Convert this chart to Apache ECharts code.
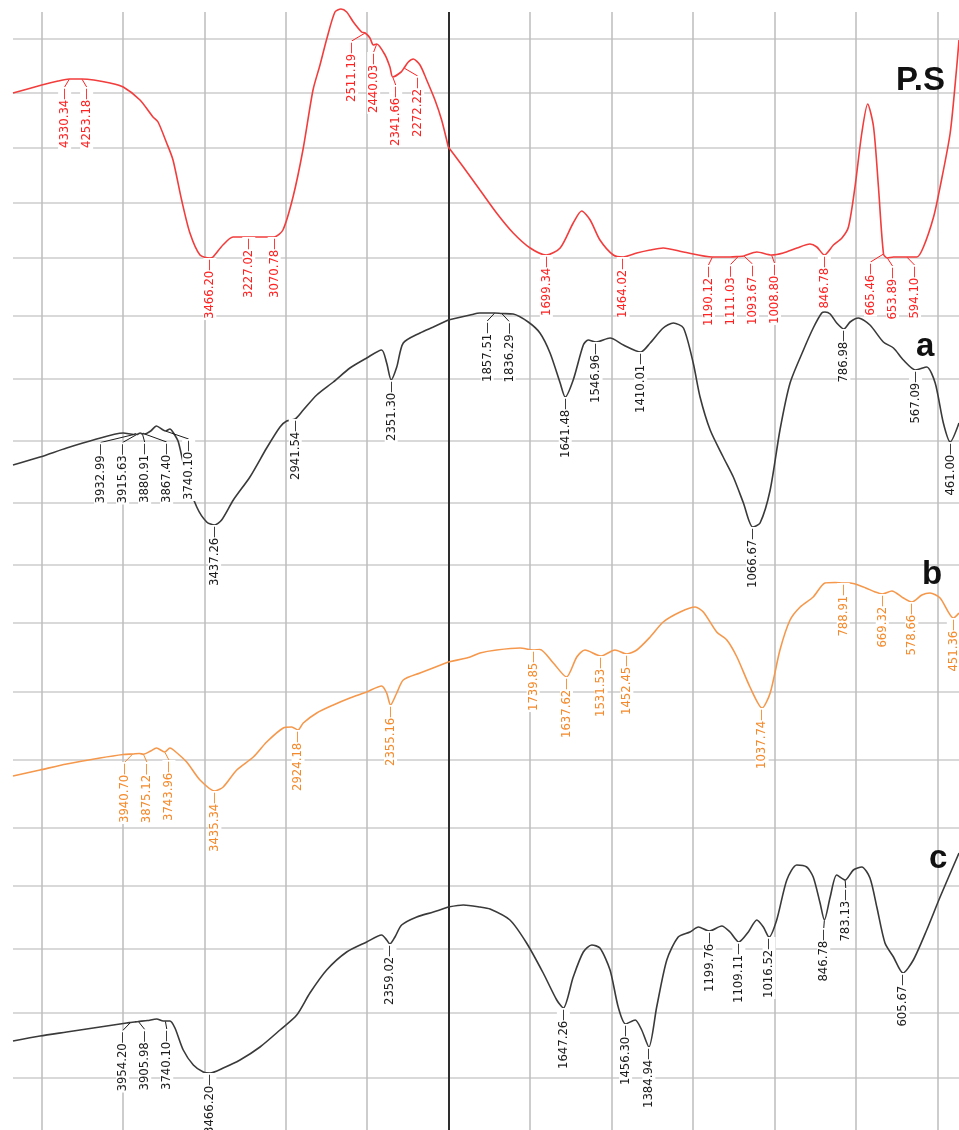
<!DOCTYPE html>
<html>
<head>
<meta charset="utf-8">
<script src="https://cdn.jsdelivr.net/npm/echarts@6/dist/echarts.min.js"></script>
<style>
  html, body { margin: 0; padding: 0; background: #fff; }
  #chart { width: 959px; height: 1130px; }
</style>
</head>
<body>
<div id="chart"></div>
<script>
// FTIR spectra, wavenumber (cm-1) against stacked, offset transmittance.
// The x scale changes at 2000 cm-1, so the plot is split into two grids.

// ---- P.S ----
const psCurve = [
  [4677,103.7],[4500,104.5],[4400,104.9],[4330.34,105.1],[4253.18,105.1],[4180,105.0],[4080,104.7],
  [3999,104.3],[3896,103.0],[3816,101.3],[3785,100.8],[3732,98.7],[3693,97.0],[3640,93.0],
  [3589,89.7],[3527,87.5],[3466.20,87.2],[3447,87.3],[3386,88.5],[3324,89.3],[3227.02,89.3],
  [3138,89.3],[3070.78,89.3],[3017,90.0],[2955,93.3],[2894,98.0],[2832,104.0],[2789,106.5],
  [2746,109.2],[2697,111.8],[2660,112.1],[2625,111.8],[2584,110.8],[2533,109.8],[2511.19,109.7],
  [2482,109.2],[2461,108.5],[2440.03,108.6],[2389,107.5],[2359,106.3],[2341.66,105.3],[2290,105.8],
  [2272.22,106.2],[2246,106.8],[2215,107.1],[2174,106.5],[2133,105.0],[2082,103.0],[2041,101.0],
  [2000,98.3],[1954,96.3],[1903,94.0],[1852,91.7],[1801,89.7],[1749,88.2],[1699.34,87.5],
  [1657,88.2],[1617,90.7],[1591,91.9],[1565,91.0],[1535,89.0],[1494,87.5],[1464.02,87.3],
  [1422,87.7],[1381,88.0],[1341,88.2],[1279,87.8],[1190.12,87.3],[1136,87.3],[1111.03,87.35],
  [1093.67,87.4],[1054,87.8],[1008.80,87.5],[973,87.7],[931,88.2],[891,88.6],[870,88.3],
  [846.78,87.5],[819,88.5],[793,89.2],[773,90.3],[753,94.3],[732,99.7],[714,102.6],[696,100.3],
  [681,94.3],[665.46,87.6],[653.89,87.2],[635,87.3],[594.10,87.3],[563,87.3],[543,88.3],
  [512,91.3],[492,94.3],[461,99.7],[441,106.3],[434,109.0]
];
const psPeaks = [4330.34, 4253.18, 3466.20, 3227.02, 3070.78, 2511.19, 2440.03, 2341.66, 2272.22,
  1699.34, 1464.02, 1190.12, 1111.03, 1093.67, 1008.80, 846.78, 665.46, 653.89, 594.10];

// ---- a ----
const aCurve = [
  [4677,66.5],[4511,67.3],[4347,68.2],[4183,69.0],[3999,69.7],[3932.99,69.55],[3925,69.62],
  [3915.63,69.55],[3895,69.7],[3880.91,69.6],[3875,69.65],[3867.40,69.6],[3830,69.9],[3795,70.4],
  [3740.10,69.9],[3712,70.1],[3690,69.7],[3660,68.8],[3609,65.2],[3547,62.3],[3486,60.8],
  [3437.26,60.5],[3394,61.0],[3322,63.0],[3220,65.3],[3117,68.2],[3035,70.3],[2994,70.9],
  [2941.54,71.1],[2892,72.0],[2809,73.5],[2707,74.8],[2605,76.2],[2502,77.2],[2410,78.0],
  [2379,76.7],[2351.30,75.0],[2317,76.3],[2277,78.7],[2174,79.7],[2092,80.3],[2000,81.0],
  [1933,81.5],[1903,81.7],[1857.51,81.7],[1836.29,81.65],[1801,81.6],[1755,80.8],[1719,79.7],
  [1688,77.7],[1657,74.7],[1641.48,73.3],[1617,75.0],[1586,78.5],[1571,79.0],[1546.96,78.8],
  [1504,79.2],[1463,78.5],[1410.01,77.8],[1381,78.7],[1341,80.2],[1310,80.7],[1279,80.2],
  [1249,76.7],[1228,73.3],[1197,70.0],[1157,67.3],[1126,65.3],[1095,62.7],[1066.67,60.3],
  [1044,60.7],[1013,64.0],[983,70.0],[952,74.7],[911,78.0],[881,80.2],[855,81.7],[845,81.8],
  [829,81.6],[809,80.7],[786.98,80.1],[768,80.8],[742.5,81.2],[707,80.5],[666,78.8],[635,78.2],
  [604.5,77.0],[567.09,76.0],[533,76.3],[507,74.7],[482,70.7],[461.00,68.8],[434,70.7]
];
const aPeaks = [3932.99, 3915.63, 3880.91, 3867.40, 3740.10, 3437.26, 2941.54, 2351.30, 1857.51,
  1836.29, 1641.48, 1546.96, 1410.01, 1066.67, 786.98, 567.09, 461.00];

// ---- b ----
const bCurve = [
  [4677,35.4],[4511,36.0],[4347,36.6],[4142,37.2],[3999,37.55],[3940.70,37.6],[3900,37.65],
  [3875.12,37.58],[3830,37.9],[3795,38.2],[3743.96,37.8],[3712,38.2],[3690,38.0],[3609,36.8],
  [3527,35.0],[3435.34,33.9],[3384,34.3],[3301,36.0],[3199,37.3],[3117,38.8],[3015,40.2],
  [2963,40.3],[2924.18,40.0],[2892,40.7],[2809,41.7],[2707,42.5],[2605,43.2],[2502,43.8],
  [2410,44.4],[2379,43.7],[2355.16,42.5],[2317,43.7],[2277,45.0],[2174,45.7],[2000,46.8],
  [1933,47.3],[1903,47.7],[1852,48.0],[1780,48.2],[1739.85,48.0],[1719,48.05],[1678,46.7],
  [1637.62,45.3],[1606,47.3],[1581,48.0],[1531.53,47.4],[1489,48.0],[1452.45,47.6],[1422,48.0],
  [1381,49.3],[1341,50.8],[1289,51.8],[1243,52.3],[1218,51.8],[1177,49.8],[1146,49.0],
  [1115,47.3],[1075,44.3],[1037.74,42.2],[1013,43.7],[983,48.0],[952,51.0],[921,52.3],
  [881,53.3],[845,54.7],[814,54.75],[788.91,54.7],[768,54.7],[727,54.3],[691,53.8],
  [669.32,53.6],[640,53.9],[604.5,53.2],[578.66,52.8],[548,53.5],[523,53.7],[492,53.2],
  [451.36,51.2],[434,51.7]
];
const bPeaks = [3940.70, 3875.12, 3743.96, 3435.34, 2924.18, 2355.16, 1739.85, 1637.62, 1531.53,
  1452.45, 1037.74, 788.91, 669.32, 578.66, 451.36];

// ---- c ----
const cCurve = [
  [4677,8.9],[4511,9.4],[4347,9.8],[4142,10.3],[3978,10.7],[3954.20,10.75],[3930,10.8],
  [3905.98,10.85],[3850,10.95],[3793,11.1],[3753,10.9],[3740.10,10.9],[3712,10.9],[3681,10.2],
  [3630,8.0],[3568,6.5],[3507,5.8],[3466.20,5.7],[3384,6.2],[3281,7.0],[3158,8.3],[3035,10.0],
  [2932,11.5],[2851,13.7],[2748,16.0],[2625,17.8],[2502,18.8],[2410,19.5],[2379,19.0],
  [2359.02,18.6],[2328,19.3],[2287,20.5],[2194,21.3],[2092,21.8],[2000,22.3],
  [1954,22.5],[1903,22.3],[1872,22.1],[1811,21.0],[1760,18.7],[1709,15.7],[1667.5,13.0],
  [1647.26,12.2],[1617,15.3],[1586,17.8],[1560,18.5],[1535,18.2],[1504,16.0],[1479,12.3],
  [1456.30,10.6],[1427,11.0],[1407,10.0],[1384.94,8.3],[1361,12.3],[1330,17.0],[1295,19.3],
  [1259,19.8],[1233,20.3],[1199.76,19.9],[1161.5,20.4],[1136,19.8],[1109.11,18.8],[1080,19.8],
  [1054,21.0],[1034,20.3],[1016.52,19.3],[993,21.0],[962,25.0],[931.5,26.5],[901,26.3],
  [881,25.3],[860,22.7],[846.78,21.0],[829,23.3],[809,25.5],[783.13,25.0],[758,26.0],
  [732,26.3],[707,25.2],[686,22.3],[661,18.7],[635,17.3],[605.67,15.7],[574,17.0],
  [533,20.0],[492,23.3],[434,27.7]
];
const cPeaks = [3954.20, 3905.98, 3740.10, 3466.20, 2359.02, 1647.26, 1456.30, 1384.94, 1199.76,
  1109.11, 1016.52, 846.78, 783.13, 605.67];

// axis ranges and grid rules
const leftRange = [2000, 4677];
const rightRange = [434, 2000];
const yRange = [0, 113];
const plotTop = 111.8;
const leftTicks = [4500, 4000, 3500, 3000, 2500];
const rightTicks = [1750, 1500, 1250, 1000, 750, 500];
const rowLines = [109.1, 103.7, 98.2, 92.7, 87.2, 81.4, 75.1, 68.9, 62.7, 56.5, 50.7,
  43.8, 37.0, 30.2, 24.4, 18.1, 11.7, 5.2];

const spectra = [
  { name: 'P.S', curve: psCurve, peaks: psPeaks, line: '#f23d3d', text: '#ff2222' },
  { name: 'a',   curve: aCurve,  peaks: aPeaks,  line: '#3a3a3a', text: '#1c1c1c' },
  { name: 'b',   curve: bCurve,  peaks: bPeaks,  line: '#f5984c', text: '#f58a2c' },
  { name: 'c',   curve: cCurve,  peaks: cPeaks,  line: '#3a3a3a', text: '#1c1c1c' }
];

const labelFont = "'Liberation Sans Narrow','Arial Narrow','DejaVu Sans Condensed',sans-serif";
const LABEL_GAP = 22;     // minimum horizontal spacing of neighbouring peak labels, px
const LEADER_DROP = 8;    // extra drop of a label that was moved sideways, px

function valueAt(curve, wn) {
  for (let i = 0; i < curve.length - 1; i++) {
    const a = curve[i], b = curve[i + 1];
    if (wn <= a[0] && wn >= b[0]) {
      const t = (a[0] - wn) / ((a[0] - b[0]) || 1);
      return a[1] + (b[1] - a[1]) * t;
    }
  }
  return curve[curve.length - 1][1];
}

// keep crowded peak labels apart, centring each crowded group on its peaks
function spreadPositions(xs, gap) {
  const order = xs.map((x, i) => i).sort((p, q) => xs[p] - xs[q]);
  const groups = [];
  order.forEach(i => {
    groups.push({ idx: [i], sum: xs[i] });
    while (groups.length > 1) {
      const g = groups[groups.length - 1], p = groups[groups.length - 2];
      const pEnd = p.sum / p.idx.length + (p.idx.length - 1) * gap / 2;
      const gStart = g.sum / g.idx.length - (g.idx.length - 1) * gap / 2;
      if (gStart - pEnd < gap) {
        p.idx = p.idx.concat(g.idx); p.sum += g.sum; groups.pop();
      } else break;
    }
  });
  const out = new Array(xs.length);
  groups.forEach(g => {
    const n = g.idx.length, c = g.sum / n;
    g.idx.forEach((i, k) => { out[i] = c - (n - 1) * gap / 2 + k * gap; });
  });
  return out;
}

function gridIndexOf(wn) { return wn > 2000 ? 0 : 1; }

// sideways shift of each label, keyed "seriesIndex:dataIndex".
// The labels are turned a quarter turn, so in the label's own frame a sideways
// move is along y and a move down the page is along -x.
const labelShift = {};

function labelMove(p) {
  const s = labelShift[p.seriesIndex + ':' + p.dataIndex] || 0;
  return { dy: s, dx: Math.abs(s) > 0.5 ? -LEADER_DROP : 0, hideOverlap: false };
}

function buildOption() {
  const series = [];
  const hLine = { color: '#cdcdcd', width: 1.5, type: 'solid' };
  const vLine = { color: '#bdbdbd', width: 1.5, type: 'solid' };
  // grid rules for both panels
  [0, 1].forEach(g => {
    const ticks = g === 0 ? leftTicks : rightTicks;
    const data = rowLines.map(v => ({ yAxis: v, lineStyle: hLine }))
      .concat(ticks.map(v => [{ coord: [v, 0], lineStyle: vLine }, { coord: [v, plotTop] }]));
    if (g === 1) {
      data.push([{ coord: [2000, 0], lineStyle: { color: '#2e2e2e', width: 2, type: 'solid' } },
                 { coord: [2000, plotTop] }]);
    }
    series.push({
      type: 'line', xAxisIndex: g, yAxisIndex: g, data: [[g === 0 ? 3000 : 1000, 50]],
      showSymbol: false, lineStyle: { opacity: 0 }, silent: true, clip: false, z: 0,
      markLine: { silent: true, symbol: ['none', 'none'], label: { show: false },
        animation: false, z: 1, data: data }
    });
  });
  // spectra
  spectra.forEach(s => {
    const left = s.curve.filter(p => p[0] >= 2000);
    const right = s.curve.filter(p => p[0] <= 2000);
    [left, right].forEach((pts, g) => {
      series.push({
        name: s.name, type: 'line', xAxisIndex: g, yAxisIndex: g, data: pts,
        showSymbol: false, smooth: 0.25, z: 2,
        lineStyle: { color: s.line, width: 1.6 }
      });
    });
  });
  // peak labels
  spectra.forEach((s, si) => {
    [0, 1].forEach(g => {
      const items = s.peaks.filter(wn => gridIndexOf(wn) === g)
        .map(wn => [wn, valueAt(s.curve, wn)]);
      series.push({
        type: 'scatter', xAxisIndex: g, yAxisIndex: g, data: items, z: 3,
        symbol: 'circle', symbolSize: 1, itemStyle: { color: 'rgba(0,0,0,0)' }, silent: true,
        label: {
          show: true, position: 'inside', rotate: 90, align: 'right', verticalAlign: 'middle',
          offset: [-4, 0],
          formatter: p => p.value[0].toFixed(2) + '\u2014',
          color: s.text, opacity: 1, fontSize: 13, fontFamily: labelFont,
          backgroundColor: '#ffffff', padding: [0, 1, 0, 1]
        },
        labelLine: { show: true, smooth: 0.4, length2: 0, lineStyle: { color: s.text, width: 1 } },
        labelLayout: labelMove
      });
    });
  });

  const nameFont = "bold 33px 'Liberation Sans', Arial, sans-serif";
  return {
    animation: false,
    backgroundColor: '#ffffff',
    grid: [
      { left: 13, top: 0, bottom: 0, width: 435.3 },
      { left: 448.3, top: 0, bottom: 0, right: 0 }
    ],
    xAxis: [
      { type: 'value', gridIndex: 0, inverse: true, min: leftRange[0], max: leftRange[1], show: false },
      { type: 'value', gridIndex: 1, inverse: true, min: rightRange[0], max: rightRange[1], show: false }
    ],
    yAxis: [
      { type: 'value', gridIndex: 0, min: yRange[0], max: yRange[1], show: false },
      { type: 'value', gridIndex: 1, min: yRange[0], max: yRange[1], show: false }
    ],
    graphic: [
      { type: 'text', z: 10, style: { text: 'P.S', x: 896, y: 81, font: nameFont, fill: '#111', verticalAlign: 'middle' } },
      { type: 'text', z: 10, style: { text: 'a', x: 916, y: 347, font: nameFont, fill: '#111', verticalAlign: 'middle' } },
      { type: 'text', z: 10, style: { text: 'b', x: 922, y: 575, font: nameFont, fill: '#111', verticalAlign: 'middle' } },
      { type: 'text', z: 10, style: { text: 'c', x: 929, y: 859, font: nameFont, fill: '#111', verticalAlign: 'middle' } }
    ],
    series: series
  };
}

const chart = echarts.init(document.getElementById('chart'), null, { renderer: 'canvas' });
const option = buildOption();
chart.setOption(option);

// once the scales exist, spread crowded labels of each spectrum and redraw
const firstLabelSeries = 2 + spectra.length * 2;
spectra.forEach((s, si) => {
  const refs = [];
  [0, 1].forEach(g => {
    const seriesIndex = firstLabelSeries + si * 2 + g;
    option.series[seriesIndex].data.forEach((pt, di) => {
      const px = chart.convertToPixel({ xAxisIndex: g, yAxisIndex: g }, pt);
      refs.push({ key: seriesIndex + ':' + di, x: px[0] });
    });
  });
  const spread = spreadPositions(refs.map(r => r.x), LABEL_GAP);
  refs.forEach((r, i) => { labelShift[r.key] = spread[i] - r.x; });
});
chart.setOption(buildOption(), true);
</script>
</body>
</html>
